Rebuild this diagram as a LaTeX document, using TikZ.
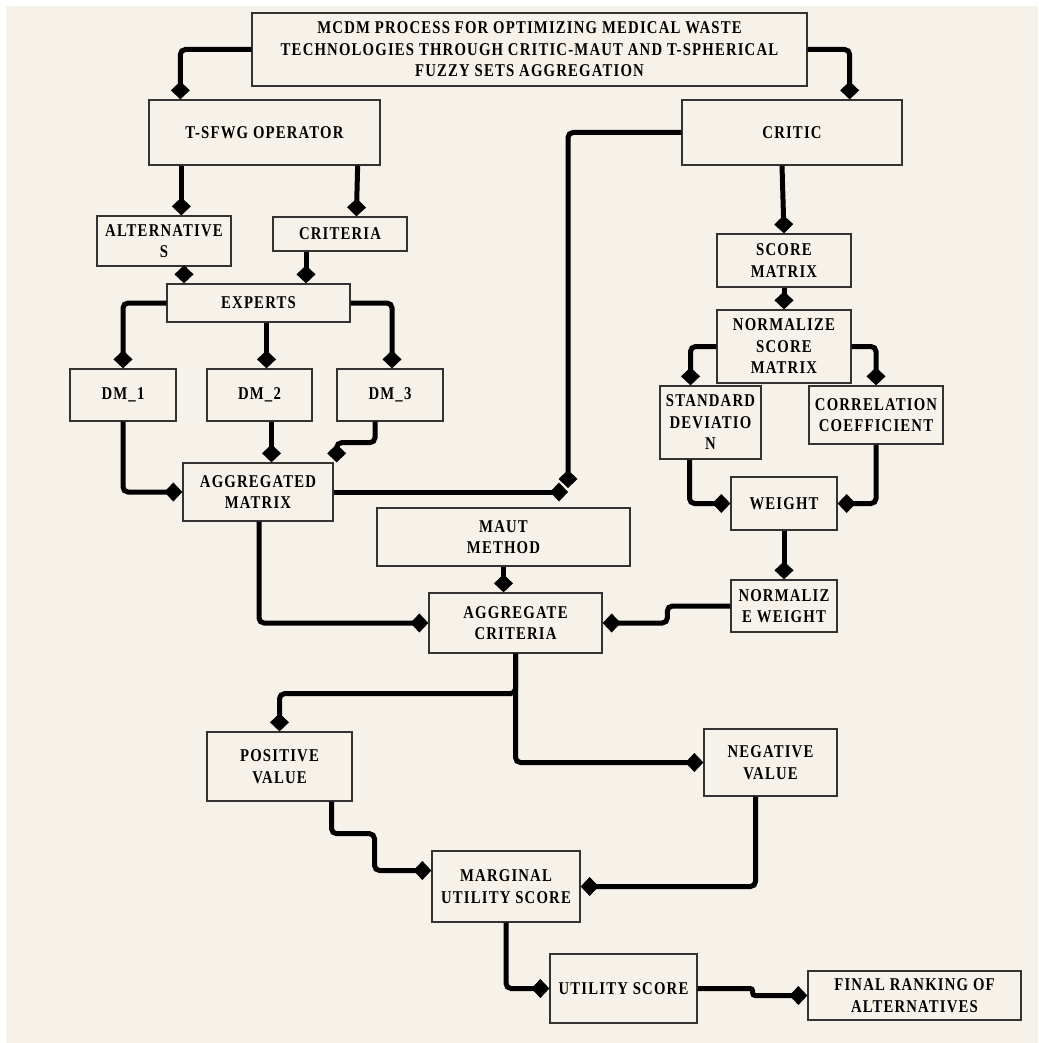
\documentclass[tikz,border=0pt]{standalone}
\usepackage{fontspec}
\usepackage{tikz}
\usetikzlibrary{arrows.meta,positioning,calc}
\newfontfamily\boxfont{Liberation Serif}[FakeStretch=0.82,LetterSpace=6.5]
\definecolor{paper}{RGB}{246,242,234}
\definecolor{edge}{RGB}{51,51,51}
\tikzset{
  % page background
  sheet/.style={fill=paper},
  % text in every box
  boxtext/.style={font=\boxfont\bfseries\fontsize{18}{21.5}\selectfont},
}

\begin{document}
\begin{tikzpicture}[x=1pt, y=-1pt,
        box/.style={draw=edge, line width=1.3pt, fill=paper, inner sep=2pt, align=center, boxtext},
        arrow/.style={-{Diamond[length=18pt,width=19pt]}, line width=5pt, rounded corners=5pt}
    ]
        \useasboundingbox (0,0) rectangle (1038,1043);
        \fill[white] (0,0) rectangle (1038,1043);
        \fill[sheet] (6,6) rectangle (1038,1043);

        % title
        \node[box, minimum width=555pt, minimum height=73pt] (title) at (529.5,49.5) {MCDM PROCESS FOR OPTIMIZING MEDICAL WASTE\\TECHNOLOGIES THROUGH CRITIC-MAUT AND T-SPHERICAL\\FUZZY SETS AGGREGATION};

        % left branch: T-SFWG
        \node[box, minimum width=231pt, minimum height=65pt] (tsfwg) at (264.5,132.5) {T-SFWG OPERATOR};
        \node[box, minimum width=134pt, minimum height=50pt] (alts) at (164,241) {ALTERNATIVE\\S};
        \node[box, minimum width=134pt, minimum height=34pt] (crit) at (340,234) {CRITERIA};
        \node[box, minimum width=183pt, minimum height=38pt] (experts) at (258.5,303) {EXPERTS};
        \node[box, minimum width=106pt, minimum height=52pt] (dm1) at (123,395) {DM\_1};
        \node[box, minimum width=105pt, minimum height=52pt] (dm2) at (259.5,395) {DM\_2};
        \node[box, minimum width=106pt, minimum height=52pt] (dm3) at (390,395) {DM\_3};
        \node[box, minimum width=150pt, minimum height=58pt] (aggmat) at (258,492) {AGGREGATED\\MATRIX};

        % right branch: CRITIC
        \node[box, minimum width=220pt, minimum height=65pt] (critic) at (792,132.5) {CRITIC};
        \node[box, minimum width=134pt, minimum height=53pt] (score) at (784,260.5) {SCORE\\MATRIX};
        \node[box, minimum width=134pt, minimum height=73pt] (normscore) at (784,346.5) {NORMALIZE\\SCORE\\MATRIX};
        \node[box, minimum width=101pt, minimum height=73pt] (stddev) at (710.5,422.5) {STANDARD\\DEVIATIO\\N};
        \node[box, minimum width=134pt, minimum height=58pt] (corr) at (876,415) {CORRELATION\\COEFFICIENT};
        \node[box, minimum width=106pt, minimum height=53pt] (weight) at (784,503.5) {WEIGHT};
        \node[box, minimum width=106pt, minimum height=52pt] (normw) at (784,606) {NORMALIZ\\E WEIGHT};

        % MAUT part
        \node[box, minimum width=253pt, minimum height=58pt] (maut) at (503.5,537) {MAUT\\METHOD};
        \node[box, minimum width=173pt, minimum height=60pt] (aggcrit) at (515.5,623) {AGGREGATE\\CRITERIA};
        \node[box, minimum width=145pt, minimum height=69pt] (pos) at (279.5,766.5) {POSITIVE\\VALUE};
        \node[box, minimum width=133pt, minimum height=67pt] (neg) at (770.5,762.5) {NEGATIVE\\VALUE};
        \node[box, minimum width=148pt, minimum height=71pt] (marg) at (506,886.5) {MARGINAL\\UTILITY SCORE};
        \node[box, minimum width=147pt, minimum height=69pt] (util) at (623.5,988.5) {UTILITY SCORE};
        \node[box, minimum width=213pt, minimum height=49pt] (final) at (914.5,995.5) {FINAL RANKING OF\\ALTERNATIVES};

        \coordinate (jn) at (568,488);

        \draw[arrow] (title.west) -| ([xshift=32]tsfwg.north west);
        \draw[arrow] (title.east) -| ([xshift=-53]critic.north east);

        \draw[arrow] ([xshift=33]tsfwg.south west) -- ([xshift=85]alts.north west);
        \draw[arrow] ([xshift=-23]tsfwg.south east) -- ([xshift=84]crit.north west);
        \draw[arrow] ([xshift=20]alts.south) -- ([xshift=20]alts.south |- experts.north);
        \draw[arrow] ([xshift=-34]crit.south) -- ([xshift=-34]crit.south |- experts.north);

        \draw[arrow] (experts.west) -| (dm1.north);
        \draw[arrow] ([xshift=8]experts.south) -- ([xshift=8]experts.south |- dm2.north);
        \draw[arrow] (experts.east) -| ([xshift=2]dm3.north);

        \draw[arrow] (dm1.south) |- (aggmat.west);
        \draw[arrow] ([xshift=12]dm2.south) -- ([xshift=12]dm2.south |- aggmat.north);
        \draw[arrow] ([xshift=-15]dm3.south) -- ++(0,21) -| ([xshift=3]aggmat.north east);

        \draw[arrow] (critic.west) -| (jn);
        \draw[arrow] (aggmat.east) -- (aggmat.east -| jn);

        \draw[arrow] ([xshift=1]aggmat.south) |- (aggcrit.west);
        \draw[arrow] (maut.south) -- (maut.south |- aggcrit.north);
        \draw[arrow] (normw.west) -- ++(-63,0) |- (aggcrit.east);

        \draw[arrow] ([xshift=-10]critic.south) -- (score.north);
        \draw[arrow] (score.south) -- (normscore.north);
        \draw[arrow] (normscore.west) -| ([xshift=-20]stddev.north);
        \draw[arrow] (normscore.east) -| (corr.north);
        \draw[arrow] ([xshift=-21]stddev.south) |- (weight.west);
        \draw[arrow] (corr.south) |- (weight.east);
        \draw[arrow] (weight.south) -- (normw.north);

        \draw[arrow] (aggcrit.south) -- ++(0,40) -| (pos.north);
        \draw[arrow] (aggcrit.south) |- (neg.west);
        \draw[arrow] ([xshift=52]pos.south) -- ++(0,32) -- ++(43,0) |- ([yshift=16]marg.west);
        \draw[arrow] ([xshift=-15]neg.south) |- (marg.east);
        \draw[arrow] (marg.south) |- (util.west);
        \draw[arrow, rounded corners=2.5pt] (util.east) -- ++(55,0) |- (final.west);
    \end{tikzpicture}
\end{document}
